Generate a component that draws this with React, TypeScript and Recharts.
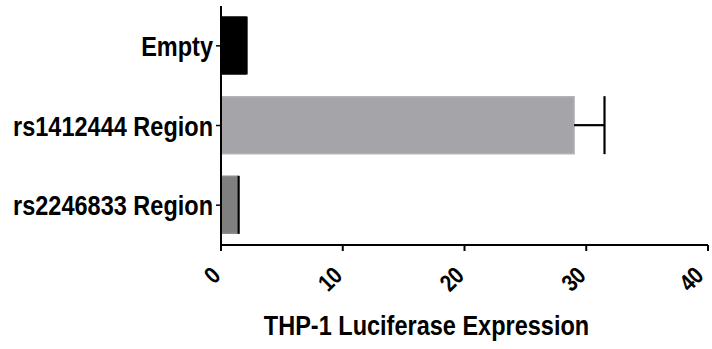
import { BarChart, Bar, XAxis, YAxis, ErrorBar, Cell } from 'recharts'

const categories = ['Empty', 'rs1412444 Region', 'rs2246833 Region']
const expression = [2.0, 29.0, 1.4]
const sem = [0.1, 2.5, 0.05]
const barColors = ['#000000', '#a5a4a9', '#7f7f7f']
const barEdges = ['#000000', '#b3b2b6', '#8c8c8c']
const xTicks = [0, 10, 20, 30, 40]
const xTitle = 'THP-1 Luciferase Expression'

// one-sided (upper) error bars: low side is 0
const data = categories.map((name, i) => ({ name, value: expression[i], err: [0, sem[i]] }))

// bold sans squeezed horizontally to look like a narrow face
const font = '"Liberation Sans", Arial, sans-serif'
const squeeze = 0.84

const CategoryTick = ({ x, y, payload }: any) => (
  <g transform={`translate(${x - 1},${y + 10}) scale(${squeeze},1)`}>
    <text textAnchor="end" fontFamily={font} fontWeight="bold" fontSize={28} fill="#000">
      {payload.value}
    </text>
  </g>
)

const ValueTick = ({ x, y, payload }: any) => (
  <g transform={`translate(${x + 1},${y + 26}) rotate(-45) scale(${squeeze},1)`}>
    <text textAnchor="end" fontFamily={font} fontWeight="bold" fontSize={24} fill="#000">
      {payload.value}
    </text>
  </g>
)

const AxisTitle = ({ viewBox }: any) => (
  <g transform={`translate(${viewBox.x + viewBox.width / 2 - 38},${viewBox.y + 90}) scale(${squeeze},1)`}>
    <text textAnchor="middle" fontFamily={font} fontWeight="bold" fontSize={28} fill="#000">
      {xTitle}
    </text>
  </g>
)

export default function App() {
  return (
    <div style={{ position: 'absolute', left: 0, top: 0, background: '#fff' }}>
      {/* hide the lower cap so only the upper whisker shows */}
      <style>{`.recharts-errorBar line:nth-of-type(3) { display: none; }`}</style>
      <BarChart
        width={712}
        height={349}
        data={data}
        layout="vertical"
        margin={{ top: 6, right: 4, left: 0, bottom: 0 }}
      >
        <XAxis
          type="number"
          domain={[0, 40]}
          ticks={xTicks}
          height={104}
          tickSize={6}
          tickMargin={0}
          axisLine={{ stroke: '#000', strokeWidth: 2 }}
          tickLine={{ stroke: '#000', strokeWidth: 2 }}
          tick={<ValueTick />}
          label={<AxisTitle />}
        />
        <YAxis
          type="category"
          dataKey="name"
          width={221}
          tickSize={5}
          tickMargin={2}
          axisLine={{ stroke: '#000', strokeWidth: 2 }}
          tickLine={{ stroke: '#000', strokeWidth: 1.5 }}
          tick={<CategoryTick />}
        />
        <Bar dataKey="value" barSize={57} isAnimationActive={false}>
          {data.map((d, i) => (
            <Cell key={d.name} fill={barColors[i]} stroke={barEdges[i]} strokeWidth={1.5} />
          ))}
          <ErrorBar dataKey="err" direction="x" width={29} stroke="#000" strokeWidth={2.2} isAnimationActive={false} />
        </Bar>
      </BarChart>
    </div>
  )
}
